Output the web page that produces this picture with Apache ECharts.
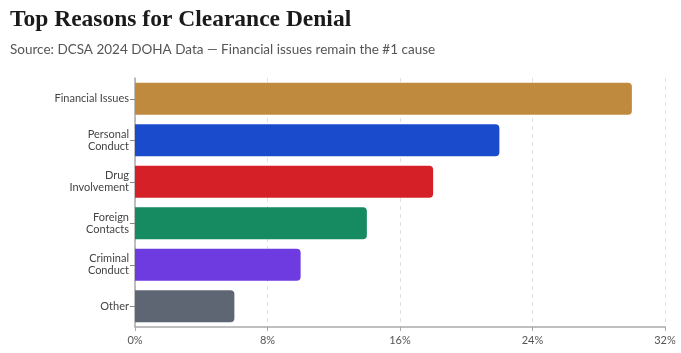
<!DOCTYPE html>
<html>
<head>
<meta charset="utf-8">
<script src="https://cdn.jsdelivr.net/npm/echarts@6/dist/echarts.min.js"></script>
<style>
  html, body { margin: 0; padding: 0; background: #fff; }
  #chart { width: 681px; height: 353px; }
</style>
</head>
<body>
<div id="chart"></div>
<script>
const categories = ['Financial Issues', 'Personal\nConduct', 'Drug\nInvolvement', 'Foreign\nContacts', 'Criminal\nConduct', 'Other']
const shares = [30, 22, 18, 14, 10, 6]
const barColors = ['#c08a3e', '#1a4bcc', '#d62027', '#168a60', '#6e3be0', '#5f6673']
const xTicks = [0, 8, 16, 24, 32]

const chart = echarts.init(document.getElementById('chart'))

chart.setOption({
  animation: false,
  title: [
    {
      text: 'Top Reasons for Clearance Denial',
      left: 5,
      top: 3,
      textStyle: { fontFamily: 'Liberation Serif', fontWeight: 'bold', fontSize: 23.5, color: '#1a1a1a' },
    },
    {
      text: 'Source: DCSA 2024 DOHA Data — Financial issues remain the #1 cause',
      left: 5,
      top: 38,
      textStyle: { fontFamily: 'Lato', fontWeight: 'normal', fontSize: 13.5, color: '#555' },
    },
  ],
  grid: { left: 135, right: 16, top: 78, bottom: 26 },
  xAxis: {
    type: 'value',
    min: xTicks[0],
    max: xTicks[xTicks.length - 1],
    interval: 8,
    axisLine: { show: true, lineStyle: { color: '#aaa', width: 1.5 } },
    axisTick: { show: true, length: 4, lineStyle: { color: '#aaa' } },
    splitLine: { show: true, lineStyle: { type: [4, 4], color: '#e0e0e0' } },
    axisLabel: { formatter: '{value}%', color: '#555', fontFamily: 'Lato', fontSize: 11, margin: 8 },
  },
  yAxis: {
    type: 'category',
    inverse: true,
    data: categories,
    axisLine: { show: true, lineStyle: { color: '#aaa', width: 1.5 } },
    axisTick: { show: true, length: 5, alignWithLabel: true, lineStyle: { color: '#888' } },
    axisLabel: { color: '#444', fontFamily: 'Lato', fontSize: 11, lineHeight: 12, margin: 6 },
  },
  series: [
    {
      type: 'bar',
      barCategoryGap: '23%',
      data: shares.map((v, i) => ({
        value: v,
        itemStyle: { color: barColors[i], borderRadius: [0, 4, 4, 0] },
      })),
    },
  ],
})
</script>
</body>
</html>
